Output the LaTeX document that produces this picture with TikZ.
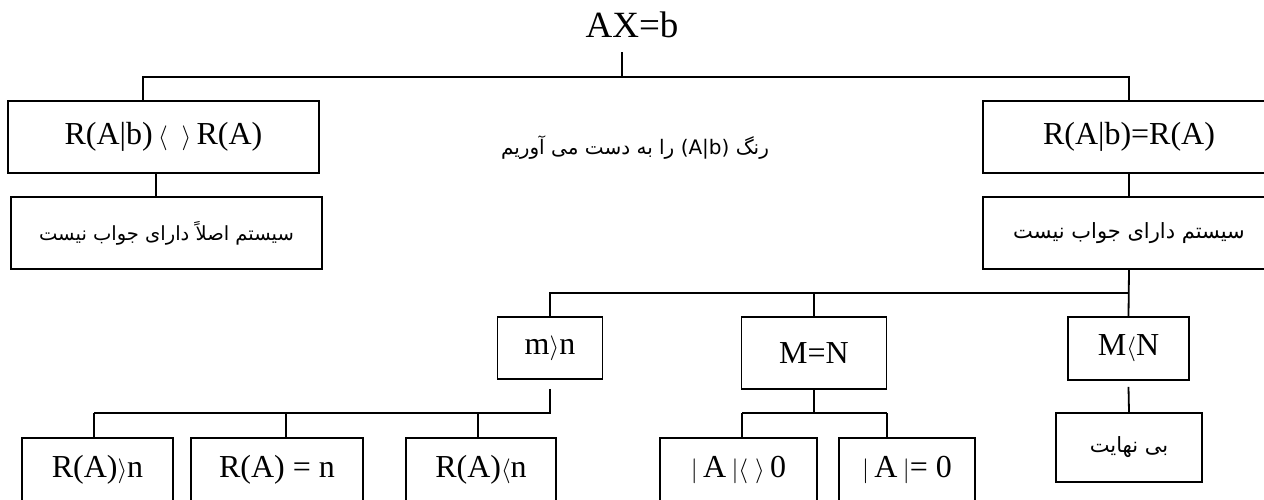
\documentclass[tikz,border=0pt]{standalone}
\usepackage{fontspec}
\setmainfont{Liberation Serif}
\newfontfamily\persianfont[Script=Arabic]{DejaVu Sans}
\TeXXeTstate=1
\usetikzlibrary{positioning}

\tikzset{
  box/.style={draw, line width=1.8pt, inner sep=0pt, font=\fontsize{32}{34}\selectfont},
  cutbox/.style={box, anchor=north, text height=40pt, text depth=40pt},
  fabox/.style={box, font=\persianfont\fontsize{21}{24}\selectfont},
  link/.style={line width=1.8pt}
}

\begin{document}
\begin{tikzpicture}[x=1pt, y=-1pt]
  \clip (0,0) rectangle (1264,499);
  % top level
  \node (title) at (632,25) {\fontsize{37}{40}\selectfont AX=b};
  \node[box, minimum width=311pt, minimum height=72pt] (rank) at (163.5,137) {R(A|b)\,$\langle\;\;\rangle$\,R(A)};
  \node[box, minimum width=292pt, minimum height=72pt] (eqrank) at (1129,137) {R(A|b)=R(A)};
  \node[font=\persianfont\fontsize{20}{24}\selectfont] (note) at (635,148) {\beginR رنگ \beginL(A|b)\endL{} را به دست می آوریم\endR};
  \node[fabox, font=\persianfont\fontsize{19.5}{24}\selectfont, minimum width=311pt, minimum height=72pt] (nosol) at (166.5,233) {\beginR سیستم اصلاً دارای جواب نیست\endR};
  \node[fabox, minimum width=292pt, minimum height=72pt] (hassol) at (1129,233) {\beginR سیستم دارای جواب نیست\endR};

  % m and n
  \node[box, minimum width=105pt, minimum height=62pt] (mgn) at (550,348) {m$\rangle$n};
  \node[box, minimum width=145pt, minimum height=72pt] (meqn) at (814,353) {M=N};
  \node[box, minimum width=121pt, minimum height=63pt] (mln) at (1128.5,348.5) {M$\langle$N};
  \node[fabox, minimum width=146pt, minimum height=69pt] (inf) at (1129,447.5) {\beginR بی نهایت\endR};

  % bottom row
  \node[cutbox, minimum width=151pt] (ra) at (97.5,437) {R(A)$\rangle$n};
  \node[cutbox, minimum width=172pt] (rb) at (277,437) {R(A) = n};
  \node[cutbox, minimum width=150pt] (rc) at (481,437) {R(A)$\langle$n};
  \node[cutbox, minimum width=157pt] (ad) at (738.5,437) {$|$\,A\,$|\langle\;\rangle$\,0};
  \node[cutbox, minimum width=136pt] (ae) at (907,437) {$|$\,A\,$|$= 0};

  % connectors
  \coordinate (tick) at (622,52);
  \coordinate (hub) at (622,77);
  \coordinate (busL) at (143,77);
  \coordinate (busR) at (1129,77);
  \draw[link] (tick) -- (hub);
  \draw[link] (rank.north -| busL) |- (busR) -- (eqrank.north);
  \draw[link] ([xshift=-7.5pt]rank.south) -- ([xshift=-10.5pt]nosol.north);
  \draw[link] (eqrank.south) -- (hassol.north);

  \coordinate (row2) at (0,293);
  \draw[link] (hassol.south) -- (mln.north);
  \draw[link] (mgn.north) |- (hassol.south |- row2);
  \draw[link] (meqn.north) -- (meqn.north |- row2);

  \coordinate (j0) at (550,413);
  \coordinate (j1) at (94,413);
  \coordinate (j2) at (286,413);
  \coordinate (j3) at (478,413);
  \draw[link] ([yshift=-9pt]mgn.south) -- (j0) -- (j1);
  \foreach \j/\b in {j1/ra, j2/rb, j3/rc}
    \draw[link] (\j) -- (\j |- \b.north);

  \coordinate (k0) at (814,413);
  \coordinate (k1) at (742,413);
  \coordinate (k2) at (887,413);
  \draw[link] (meqn.south) -- (k0);
  \draw[link] (k1) -- (k2);
  \foreach \k/\b in {k1/ad, k2/ae}
    \draw[link] (\k) -- (\k |- \b.north);

  \draw[link] ([yshift=-6pt]mln.south) -- (inf.north);
\end{tikzpicture}
\end{document}
